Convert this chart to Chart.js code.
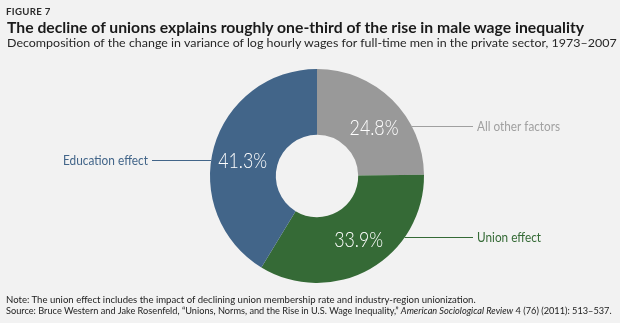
<!DOCTYPE html>
<html>
<head>
<meta charset="utf-8">
<script src="https://cdn.jsdelivr.net/npm/chart.js@4/dist/chart.umd.min.js"></script>
<style>
    body { margin: 0; background: #f2f2f2; }
    #wrap { position: relative; width: 620px; height: 323px; overflow: hidden; background: #f2f2f2; font-family: Lato, "Open Sans", sans-serif; }
    #pie { position: absolute; left: 0; top: 0; }
    .line { position: absolute; left: 6px; white-space: nowrap; transform-origin: 0 0; }
    #fig { top: 7px; left: 6px; font-size: 9px; line-height: 9px; font-weight: 700; letter-spacing: 0.3px; color: #2b2b2b; }
    #title { top: 20px; left: 7px; font-size: 15px; line-height: 15px; font-weight: 700; color: #1a1a1a; }
    #subtitle { top: 37px; left: 7px; font-size: 11.5px; line-height: 11.5px; color: #262626; }
    #note { top: 294px; font-size: 10px; line-height: 10px; color: #222; }
    #source { top: 305.4px; font-size: 10px; line-height: 10px; color: #222; }
</style>
</head>
<body>
<div id="wrap">
    <canvas id="pie" width="620" height="323"></canvas>
    <div class="line" id="fig" data-w="45">FIGURE 7</div>
    <div class="line" id="title" data-w="577">The decline of unions explains roughly one-third of the rise in male wage inequality</div>
    <div class="line" id="subtitle" data-w="610">Decomposition of the change in variance of log hourly wages for full-time men in the private sector, 1973–2007</div>
    <div class="line" id="note" data-w="470">Note: The union effect includes the impact of declining union membership rate and industry-region unionization.</div>
    <div class="line" id="source" data-w="606">Source: Bruce Western and Jake Rosenfeld, “Unions, Norms, and the Rise in U.S. Wage Inequality,” <i>American Sociological Review</i> 4 (76) (2011): 513–537.</div>
</div>
<script>
// data, clockwise from 12 o'clock
const categories = ["All other factors", "Union effect", "Education effect"];
const shares = [24.8, 33.9, 41.3];

// styling
const sliceColors = ["#999999", "#356a36", "#426589"];
const labelColors = ["#a0a0a0", "#356a36", "#426589"];
const labelSides = ["right", "right", "left"];
const labelWidths = [83, 64, 85];
const pctNudge = [[5, 5], [5, 0], [-3, 5]];
const leaderShift = [-2, -3, -1];

function fitText(ctx, text, x, y, width) {
    const w = ctx.measureText(text).width;
    ctx.save();
    ctx.translate(x, y);
    ctx.scale(width / w, 1);
    ctx.fillText(text, 0, 0);
    ctx.restore();
}

const calloutPlugin = {
    id: "callouts",
    afterDatasetsDraw(chart) {
        const ctx = chart.ctx;
        const arcs = chart.getDatasetMeta(0).data;

        arcs.forEach((arc, i) => {
            const pos = arc.tooltipPosition();
            const { x: cx, y: cy, outerRadius: r } = arc.getProps(["x", "y", "outerRadius"], true);
            const lx = pos.x + pctNudge[i][0];
            const ly = pos.y + pctNudge[i][1];

            // percentage inside the slice
            ctx.save();
            ctx.fillStyle = "#ffffff";
            ctx.font = "300 22px Lato";
            ctx.textAlign = "center";
            ctx.textBaseline = "middle";
            fitText(ctx, shares[i].toFixed(1) + "%", lx, ly, 49);
            ctx.restore();

            // leader line and category label
            const yLine = Math.round(ly + leaderShift[i]) + 0.5;
            const dx = Math.sqrt(Math.max(r * r - (yLine - cy) * (yLine - cy), 0));
            ctx.save();
            ctx.strokeStyle = labelColors[i];
            ctx.fillStyle = labelColors[i];
            ctx.lineWidth = 1;
            ctx.font = "13px Lato";
            ctx.textBaseline = "alphabetic";
            ctx.beginPath();
            if (labelSides[i] === "right") {
                ctx.moveTo(cx + dx, yLine);
                ctx.lineTo(cx + 156, yLine);
                ctx.stroke();
                ctx.textAlign = "left";
                fitText(ctx, categories[i], cx + 160, yLine + 4.7, labelWidths[i]);
            } else {
                ctx.moveTo(cx - dx, yLine);
                ctx.lineTo(cx - 165, yLine);
                ctx.stroke();
                ctx.textAlign = "right";
                fitText(ctx, categories[i], cx - 169, yLine + 4.7, labelWidths[i]);
            }
            ctx.restore();
        });
    }
};

new Chart(document.getElementById("pie"), {
    type: "doughnut",
    data: {
        labels: categories,
        datasets: [
            {
                data: shares,
                backgroundColor: sliceColors,
                borderWidth: 0
            }
        ]
    },
    options: {
        responsive: false,
        animation: false,
        cutout: "38.5%",
        layout: {
            padding: { left: 210, right: 196, top: 69, bottom: 40 }
        },
        plugins: {
            legend: { display: false },
            tooltip: { enabled: false }
        }
    },
    plugins: [calloutPlugin]
});

document.querySelectorAll(".line").forEach(el => {
    const target = parseFloat(el.dataset.w);
    el.style.transform = "scaleX(" + (target / el.offsetWidth) + ")";
});
</script>
</body>
</html>
